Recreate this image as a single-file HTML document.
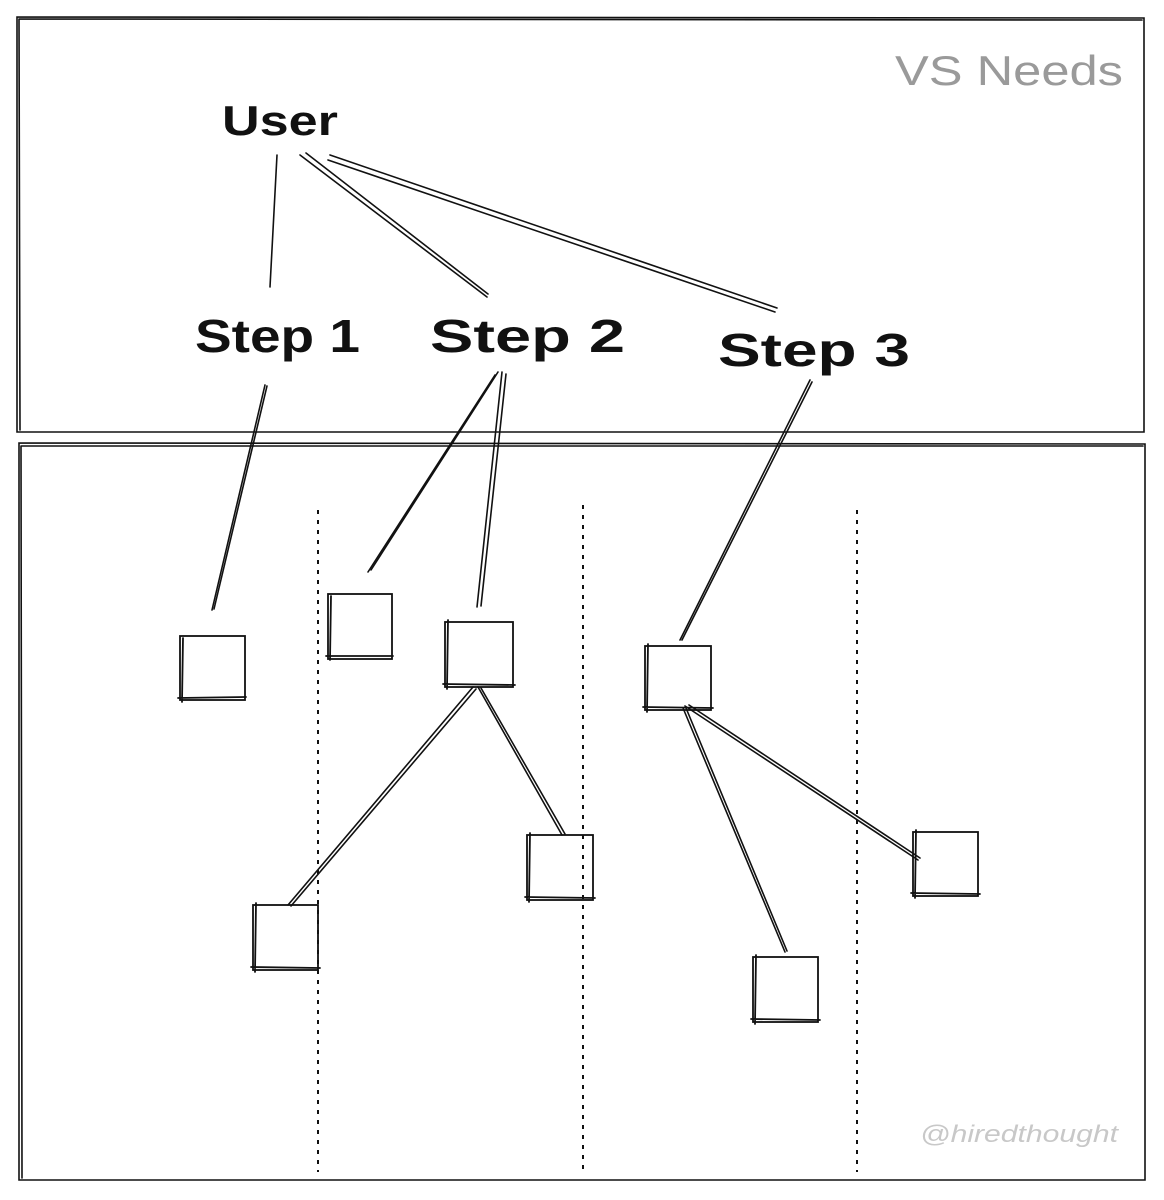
<!DOCTYPE html>
<html><head><meta charset="utf-8"><style>
html,body{margin:0;padding:0;background:#fff;}
svg{display:block}
text{font-family:"Liberation Sans",sans-serif;}
</style></head><body>
<svg width="1164" height="1200" viewBox="0 0 1164 1200" xmlns="http://www.w3.org/2000/svg">
<g fill="none" stroke="#111" stroke-width="1.6" stroke-linecap="round">
<path d="M17 17 L1144 18 L1144 432 L17 432 Z"/>
<path d="M19 19 L1142 20 M19 19 L20 430"/>
<path d="M19 443 L1145 444 L1145 1180 L19 1180 Z"/>
<path d="M21 446 L1143 446 M21 446 L22 1178"/>
<path d="M277 155 L270 287"/>
<path d="M300 155 L487 297"/><path d="M306 153 L488 294"/>
<path d="M330 155 L777 308"/><path d="M328 160 L775 312"/>
<path d="M265 385 L212 610"/><path d="M267 386 L214 609"/>
<path d="M495 375 L368 572"/><path d="M498 372 L371 570"/>
<path d="M502 372 L477 607"/><path d="M506 374 L481 606"/>
<path d="M810 380 L680 640"/><path d="M812 382 L682 640"/>
<path d="M473 687 L288 905"/><path d="M476 689 L291 906"/>
<path d="M478 687 L562 835"/><path d="M481 688 L565 834"/>
<path d="M683 708 L785 952"/><path d="M686 708 L787 951"/>
<path d="M685 706 L918 860"/><path d="M689 705 L920 858"/>
<g stroke-width="1.8">
<rect x="180" y="636" width="65" height="64"/><path d="M183 638 L182 702 M178 698 L246 697"/>
<rect x="328" y="594" width="64" height="65"/><path d="M331 596 L330 660 M326 656 L393 656"/>
<rect x="445" y="622" width="68" height="65"/><path d="M448 620 L447 689 M443 684 L515 685"/>
<rect x="645" y="646" width="66" height="64"/><path d="M648 644 L647 712 M643 707 L713 708"/>
<rect x="527" y="835" width="66" height="65"/><path d="M530 833 L529 902 M525 897 L595 898"/>
<rect x="253" y="905" width="65" height="65"/><path d="M256 903 L255 972 M251 967 L320 968"/>
<rect x="913" y="832" width="65" height="64"/><path d="M916 830 L915 898 M911 893 L980 894"/>
<rect x="753" y="957" width="65" height="65"/><path d="M756 955 L755 1024 M751 1019 L820 1020"/>
</g>
</g>
<g stroke="#111" stroke-width="2" stroke-dasharray="4 6">
<path d="M318 510 L318 1172"/><path d="M583 505 L583 1172"/><path d="M857 510 L857 1172"/>
</g>
<text x="895" y="85" font-size="42" fill="#9a9a9a" textLength="228" lengthAdjust="spacingAndGlyphs">VS Needs</text>
<text x="222" y="135" font-size="42" fill="#111" font-weight="bold" textLength="116" lengthAdjust="spacingAndGlyphs">User</text>
<text x="195" y="352" font-size="46" fill="#111" font-weight="bold" textLength="165" lengthAdjust="spacingAndGlyphs">Step 1</text>
<text x="430" y="352" font-size="46" fill="#111" font-weight="bold" textLength="195" lengthAdjust="spacingAndGlyphs">Step 2</text>
<text x="718" y="366" font-size="46" fill="#111" font-weight="bold" textLength="192" lengthAdjust="spacingAndGlyphs">Step 3</text>
<text x="920" y="1142" font-size="24" fill="#c8c8c8" font-style="italic" textLength="198" lengthAdjust="spacingAndGlyphs">@hiredthought</text>
</svg>
</body></html>
